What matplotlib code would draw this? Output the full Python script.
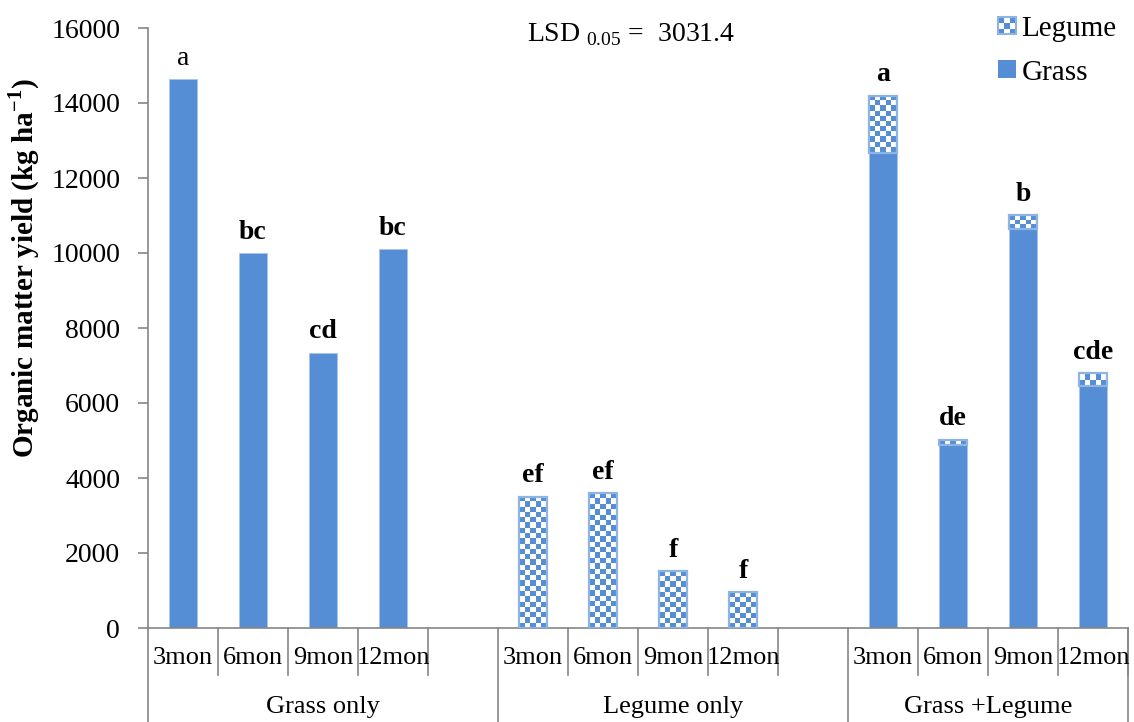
import numpy as np
import matplotlib
matplotlib.use("Agg")
from matplotlib import pyplot as plt
from matplotlib.patches import Rectangle
from matplotlib.legend_handler import HandlerBase

plt.rcParams['font.family'] = ['Liberation Serif', 'DejaVu Serif']
plt.rcParams['mathtext.fontset'] = 'custom'
plt.rcParams['mathtext.rm'] = 'Liberation Serif'
plt.rcParams['mathtext.bf'] = 'Liberation Serif:bold'

# data
groups = ['Grass only', 'Legume only', 'Grass +Legume']
months = ['3mon', '6mon', '9mon', '12mon']
grass = {'Grass only': [14640, 10000, 7340, 10100],
         'Legume only': [0, 0, 0, 0],
         'Grass +Legume': [12680, 4880, 10640, 6450]}
legume = {'Grass only': [0, 0, 0, 0],
          'Legume only': [3500, 3590, 1510, 950],
          'Grass +Legume': [1520, 140, 370, 340]}
letters = {'Grass only': ['a', 'bc', 'cd', 'bc'],
           'Legume only': ['ef', 'ef', 'f', 'f'],
           'Grass +Legume': ['a', 'de', 'b', 'cde']}
lsd = 3031.4

blue = '#558ED5'
light = '#8EB4E3'
grey = '#868686'

fig = plt.figure(figsize=(11.34, 7.22), dpi=100)
ax = fig.add_axes([148 / 1134, 1 - 628 / 722, 980 / 1134, 600 / 722])
ymax = 16000
ax.set_xlim(-0.5, 13.5)
ax.set_ylim(0, ymax)

px_x = 980 / 14.0     # pixels per category
px_y = 600 / ymax     # pixels per unit
width = 0.4
cell = 5.3


def checker_bar(x, bottom, h):
    bar = ax.bar(x, h, width, bottom=bottom, facecolor='none', edgecolor=light,
                 linewidth=1.6, zorder=3)[0]
    nx = max(1, int(round(width * px_x / cell)))
    ny = max(1, int(round(h * px_y / cell)))
    ii, jj = np.meshgrid(np.arange(nx), np.arange(ny))
    mask = (ii + jj) % 2 == 0
    img = np.ones((ny, nx, 3))
    img[mask] = matplotlib.colors.to_rgb(blue)
    im = ax.imshow(img, extent=(x - width / 2, x + width / 2, bottom, bottom + h),
                   interpolation='nearest', aspect='auto', zorder=2, origin='lower')
    im.set_clip_path(bar)


pos = 0
for g in groups:
    for k, m in enumerate(months):
        gv = grass[g][k]
        lv = legume[g][k]
        if gv > 0:
            ax.bar(pos, gv, width, color=blue, edgecolor='#A9C4EB', linewidth=0.6, zorder=2)
        if lv > 0:
            checker_bar(pos, gv, lv)
        lab = letters[g][k]
        wt = 'normal' if (g == 'Grass only' and k == 0) else 'bold'
        ax.annotate(lab, (pos, gv + lv), xytext=(0, 6), textcoords='offset points',
                    ha='center', va='bottom', fontsize=20, fontweight=wt)
        pos += 1
    pos += 1

ax.set_xlim(-0.5, 13.5)
ax.set_ylim(0, ymax)

# axes styling
for s in ['top', 'right']:
    ax.spines[s].set_visible(False)
for s in ['left', 'bottom']:
    ax.spines[s].set_color(grey)
    ax.spines[s].set_linewidth(1.2)
ax.set_yticks(np.arange(0, ymax + 1, 2000))
ax.tick_params(axis='y', direction='out', length=7, width=1.2, color=grey,
               labelsize=20, pad=13)
ax.set_xticks([])

ax.set_ylabel(r'Organic matter yield (kg ha$^{\mathbf{-1}}$)', fontsize=21,
              fontweight='bold')
ax.yaxis.set_label_coords(-0.108, 0.6)

# multi-level category axis
tr = ax.get_xaxis_transform()
short = -47 / 600
full = -94 / 600
starts = [0, 5, 10]
for gi, g in enumerate(groups):
    s = starts[gi]
    ax.plot([s - 0.5, s - 0.5], [0, full], color=grey, lw=1.2, transform=tr, clip_on=False)
    for k, m in enumerate(months):
        ax.text(s + k, -30 / 600, m, transform=tr, ha='center', va='center', fontsize=19)
        ax.plot([s + k + 0.5] * 2, [0, short], color=grey, lw=1.2, transform=tr, clip_on=False)
    ax.text(s + 1.5 + (0.5 if gi < 2 else 0), -79 / 600, g, transform=tr, ha='center',
            va='center', fontsize=19)
ax.plot([13.5, 13.5], [0, full], color=grey, lw=1.2, transform=tr, clip_on=False)

ax.text(631 / 1134, 1 - 35 / 722, r'LSD$_{\ 0.05}$ =  %.1f' % lsd, transform=fig.transFigure,
        ha='center', va='center', fontsize=20)


class CheckerHandler(HandlerBase):
    def create_artists(self, legend, orig_handle, xdescent, ydescent, width, height,
                       fontsize, trans):
        side = min(width, height)
        x0 = -xdescent + (width - side) / 2
        y0 = -ydescent + (height - side) / 2
        n = 3
        c = side / n
        arts = []
        for i in range(n):
            for j in range(n):
                col = blue if (i + j) % 2 == 0 else 'white'
                arts.append(Rectangle((x0 + i * c, y0 + j * c), c, c, facecolor=col,
                                      edgecolor='none', transform=trans))
        arts.append(Rectangle((x0, y0), side, side, facecolor='none', edgecolor=light,
                              lw=1.5, transform=trans))
        return arts


h_leg = Rectangle((0, 0), 1, 1)
h_gr = Rectangle((0, 0), 1, 1, facecolor=blue, edgecolor='none')
ax.legend([h_leg, h_gr], ['Legume', 'Grass'], handler_map={h_leg: CheckerHandler()},
          loc='upper left', bbox_to_anchor=(998 / 1134, 1 - 16 / 722),
          bbox_transform=fig.transFigure, frameon=False, fontsize=21,
          handlelength=0.6, handleheight=0.6, handletextpad=0.2, labelspacing=0.6,
          borderaxespad=0, borderpad=0)

fig.savefig('out.png', dpi=100)
